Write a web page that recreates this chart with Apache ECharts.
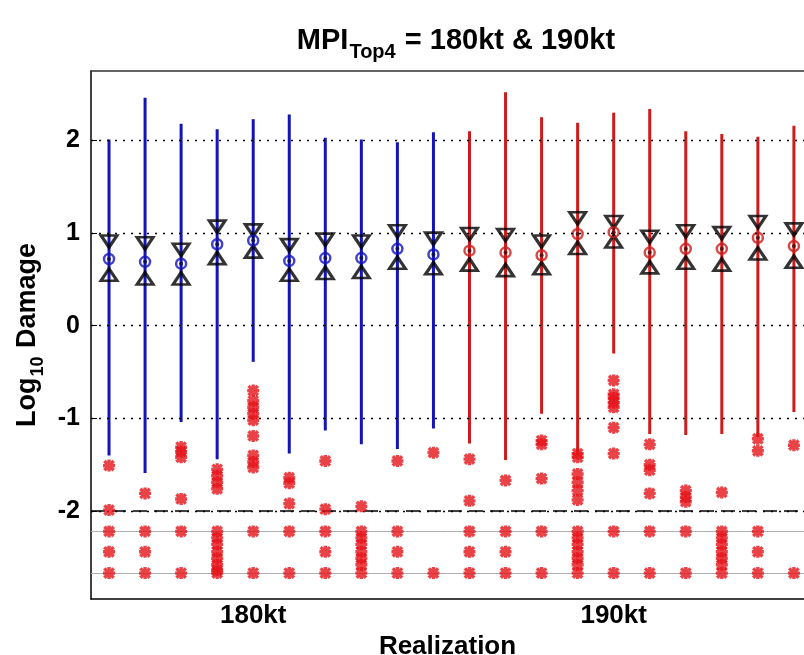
<!DOCTYPE html>
<html>
<head>
<meta charset="utf-8">
<script src="https://cdn.jsdelivr.net/npm/echarts@6/dist/echarts.min.js"></script>
<style>html,body{margin:0;padding:0;background:#fff}#c{width:804px;height:655px}</style>
</head>
<body>
<div id="c"></div>
<script>
// ---- data ----
const groupLabels = ['180kt', '190kt'];
const groupLabelPositions = [5, 15];
const realizations = [1,2,3,4,5,6,7,8,9,10,11,12,13,14,15,16,17,18,19,20];

const whiskerTop180 = [2.01, 2.46, 2.18, 2.12, 2.23, 2.28, 2.03, 2.01, 1.98, 2.09];
const whiskerBot180 = [-1.40, -1.59, -1.04, -1.44, -0.39, -1.38, -1.13, -1.28, -1.33, -1.11];
const median180 = [0.72, 0.69, 0.67, 0.88, 0.92, 0.70, 0.73, 0.73, 0.83, 0.77];
const notchHi180 = [0.91, 0.89, 0.82, 1.07, 1.03, 0.87, 0.93, 0.91, 1.02, 0.94];
const notchLo180 = [0.55, 0.51, 0.51, 0.73, 0.80, 0.55, 0.57, 0.58, 0.68, 0.62];
const outliers180 = [
  [-1.51, -1.99, -2.22, -2.44, -2.67],
  [-1.81, -2.22, -2.44, -2.67],
  [-1.31, -1.36, -1.42, -1.87, -2.22, -2.67],
  [-1.55, -1.62, -1.69, -1.76, -2.22, -2.29, -2.36, -2.44, -2.51, -2.58, -2.64, -2.67],
  [-0.70, -0.81, -0.88, -0.95, -1.02, -1.19, -1.40, -1.47, -1.53, -2.22, -2.67],
  [-1.64, -1.70, -1.92, -2.22, -2.67],
  [-1.46, -1.98, -2.22, -2.44, -2.67],
  [-1.95, -2.22, -2.29, -2.36, -2.44, -2.51, -2.58, -2.67],
  [-1.46, -2.22, -2.44, -2.67],
  [-1.37, -2.67]
];

const whiskerTop190 = [2.10, 2.52, 2.25, 2.19, 2.30, 2.34, 2.10, 2.07, 2.04, 2.16];
const whiskerBot190 = [-1.27, -1.45, -0.95, -1.40, -0.30, -1.17, -1.18, -1.17, -1.20, -0.93];
const median190 = [0.81, 0.79, 0.76, 0.99, 1.01, 0.79, 0.83, 0.83, 0.95, 0.86];
const notchHi190 = [0.99, 0.98, 0.91, 1.16, 1.12, 0.96, 1.02, 1.00, 1.12, 1.04];
const notchLo190 = [0.66, 0.60, 0.62, 0.84, 0.91, 0.63, 0.68, 0.66, 0.78, 0.69];
const outliers190 = [
  [-1.44, -1.89, -2.22, -2.44, -2.67],
  [-1.67, -2.22, -2.44, -2.67],
  [-1.24, -1.28, -1.65, -2.22, -2.67],
  [-1.38, -1.42, -1.60, -1.69, -1.78, -1.88, -2.22, -2.29, -2.36, -2.44, -2.51, -2.58, -2.67],
  [-0.59, -0.74, -0.78, -0.83, -0.88, -1.10, -1.38, -2.22, -2.67],
  [-1.28, -1.50, -1.56, -1.81, -2.22, -2.67],
  [-1.78, -1.85, -1.90, -2.22, -2.67],
  [-1.80, -2.22, -2.29, -2.36, -2.44, -2.51, -2.58, -2.67],
  [-1.22, -1.35, -2.22, -2.44, -2.67],
  [-1.29, -2.67]
];

const yTicks = [2, 1, 0, -1, -2];
const dashedLevel = -2;
const grayLevels = [-2.22, -2.67];

// ---- build ----
const BLUE = '#1414b8';
const RED = '#cc1c1c';
const FONT = 'Liberation Sans, Arial, sans-serif';
const ASTERISK = 'path://M3.6 0L6.4 0L6.4 10L3.6 10Z M0 3.6L10 3.6L10 6.4L0 6.4Z M0.1 2.1L2.1 0.1L9.9 7.9L7.9 9.9Z M7.9 0.1L9.9 2.1L2.1 9.9L0.1 7.9Z';

function xs(g) { return realizations.slice(g * 10, g * 10 + 10); }
function pairs(x, vals) { return x.map((v, i) => [v, vals[i]]); }
function whiskerData(x, lo, hi) { return x.map((v, i) => [v, lo[i], hi[i]]); }
function outlierData(x, outs) {
  const r = [];
  outs.forEach((arr, i) => arr.forEach(v => r.push([x[i], v])));
  return r;
}

function whiskerSeries(x, lo, hi, color) {
  return {
    type: 'custom', z: 2,
    renderItem: function (params, api) {
      const p1 = api.coord([api.value(0), api.value(1)]);
      const p2 = api.coord([api.value(0), api.value(2)]);
      return { type: 'line', shape: { x1: p1[0], y1: p1[1], x2: p2[0], y2: p2[1] },
               style: { stroke: color, lineWidth: 3 } };
    },
    encode: { x: 0, y: [1, 2] },
    data: whiskerData(x, lo, hi)
  };
}

const series = [];
const groups = [
  { x: xs(0), top: whiskerTop180, bot: whiskerBot180, med: median180, hi: notchHi180, lo: notchLo180, out: outliers180, color: BLUE, dot: '#0a0a50' },
  { x: xs(1), top: whiskerTop190, bot: whiskerBot190, med: median190, hi: notchHi190, lo: notchLo190, out: outliers190, color: RED, dot: '#4a0808' }
];

series.push({
  type: 'line', data: [], silent: true, z: 1,
  markLine: {
    silent: true, symbol: 'none', label: { show: false },
    data: yTicks.map(v => ({ yAxis: v, lineStyle: { color: '#000', type: [2, 6], width: 1.3 } }))
      .concat([{ yAxis: dashedLevel, lineStyle: { color: '#000', type: [14, 7], width: 1.6 } }])
      .concat(grayLevels.map(v => ({ yAxis: v, lineStyle: { color: '#b0b0b0', type: 'solid', width: 1 } })))
  }
});

groups.forEach(g => {
  series.push(whiskerSeries(g.x, g.bot, g.top, g.color));
  series.push({
    type: 'scatter', z: 3, symbol: 'triangle', symbolRotate: 180, symbolSize: [16, 12],
    itemStyle: { color: 'rgba(255,255,255,0)', borderColor: '#000', borderWidth: 3 },
    data: pairs(g.x, g.hi)
  });
  series.push({
    type: 'scatter', z: 3, symbol: 'triangle', symbolSize: [16, 12],
    itemStyle: { color: 'rgba(255,255,255,0)', borderColor: '#000', borderWidth: 3 },
    data: pairs(g.x, g.lo)
  });
  series.push({
    type: 'scatter', z: 4, symbol: 'circle', symbolSize: 10,
    itemStyle: { color: 'rgba(255,255,255,0)', borderColor: g.color, borderWidth: 2.5 },
    data: pairs(g.x, g.med)
  });
  series.push({
    type: 'scatter', z: 5, symbol: 'circle', symbolSize: 4,
    itemStyle: { color: g.dot },
    data: pairs(g.x, g.med)
  });
  series.push({
    type: 'scatter', z: 6, symbol: ASTERISK, symbolSize: 12,
    itemStyle: { color: '#e3141a' },
    data: outlierData(g.x, g.out)
  });
});

const xMin = 0.5, xMax = 20.28;
const chart = echarts.init(document.getElementById('c'), null, { renderer: 'canvas' });
chart.setOption({
  backgroundColor: '#fff',
  animation: false,
  textStyle: { fontFamily: FONT },
  title: {
    text: '{a|MPI}{b|Top4}{a| = 180kt & 190kt}',
    left: 451, top: 21, textAlign: 'center',
    textStyle: {
      rich: {
        a: { fontFamily: FONT, fontSize: 29, fontWeight: 'bold', color: '#000', lineHeight: 32, verticalAlign: 'top' },
        b: { fontFamily: FONT, fontSize: 20, fontWeight: 'bold', color: '#000', lineHeight: 20, padding: [16, 1, 0, 1], verticalAlign: 'top' }
      }
    }
  },
  grid: { left: 91, top: 71, right: 0, height: 528, show: false, outerBoundsMode: 'none', containLabel: false },
  xAxis: [{
    type: 'value', min: xMin, max: xMax,
    name: 'Realization', nameLocation: 'middle', nameGap: 30,
    nameTextStyle: { fontFamily: FONT, fontSize: 26, fontWeight: 'bold', color: '#000' },
    axisLine: { show: true, onZero: false, lineStyle: { color: '#000', width: 1.5 } },
    axisTick: { show: false },
    splitLine: { show: false },
    axisLabel: {
      customValues: groupLabelPositions,
      formatter: v => { const i = groupLabelPositions.indexOf(Math.round(v)); return i >= 0 ? groupLabels[i] : ''; },
      fontFamily: FONT, fontSize: 26, fontWeight: 'bold', color: '#000', margin: 4
    }
  }, {
    type: 'value', min: xMin, max: xMax, position: 'top',
    axisLine: { show: true, onZero: false, lineStyle: { color: '#333', width: 1.5 } },
    axisTick: { show: false }, axisLabel: { show: false }, splitLine: { show: false }
  }],
  yAxis: {
    type: 'value', min: -2.95, max: 2.75,
    name: '{a|Log}{b|10}{a| Damage}', nameLocation: 'middle', nameGap: 44, nameRotate: 90,
    nameTextStyle: {
      rich: {
        a: { fontFamily: FONT, fontSize: 27, fontWeight: 'bold', color: '#000', lineHeight: 31, verticalAlign: 'top' },
        b: { fontFamily: FONT, fontSize: 18, fontWeight: 'bold', color: '#000', lineHeight: 18, padding: [15, 1, 0, 1], verticalAlign: 'top' }
      }
    },
    axisLine: { show: true, onZero: false, lineStyle: { color: '#000', width: 1.5 } },
    axisTick: { show: true, inside: true, length: 6, customValues: yTicks, lineStyle: { color: '#000' } },
    splitLine: { show: false },
    axisLabel: {
      customValues: yTicks,
      fontFamily: FONT, fontSize: 25, fontWeight: 'bold', color: '#000', margin: 11
    }
  },
  series: series
});
</script>
</body>
</html>
